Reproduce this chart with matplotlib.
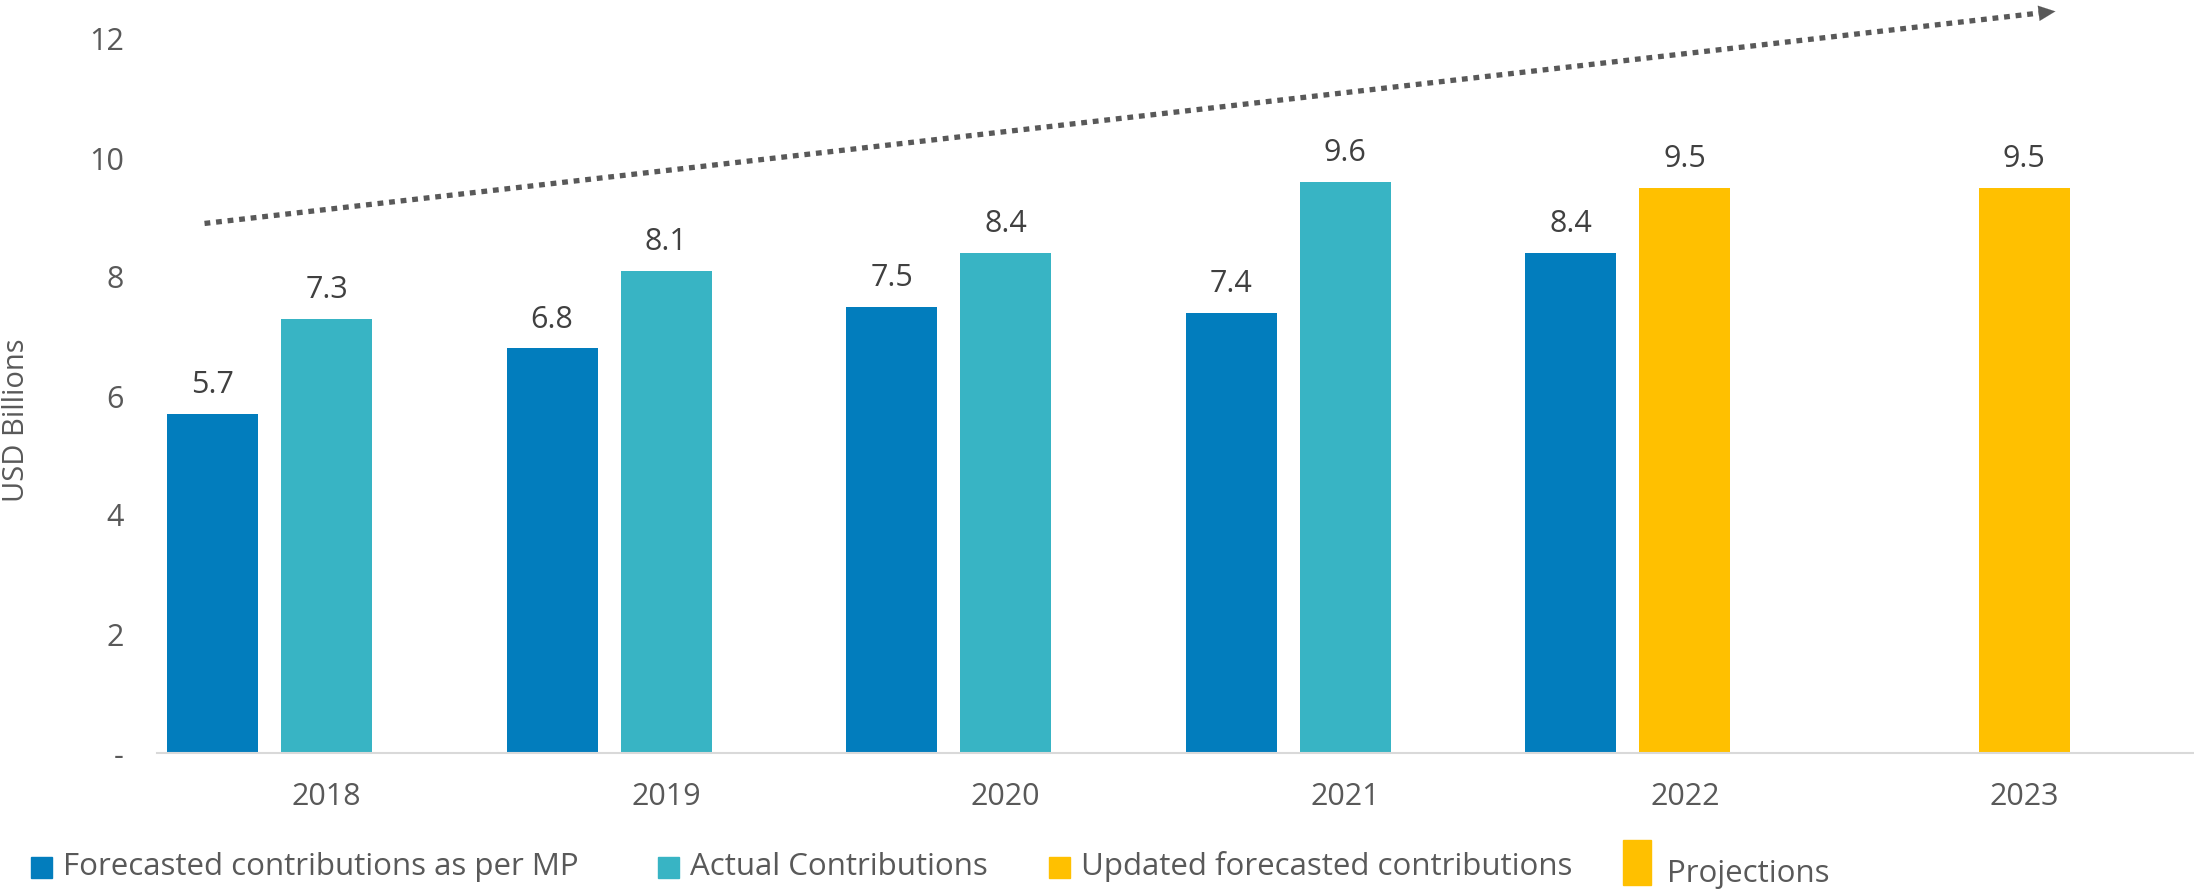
import matplotlib.pyplot as plt
import numpy as np
from matplotlib.patches import Rectangle

years = ["2018", "2019", "2020", "2021", "2022", "2023"]
forecast_mp = [5.7, 6.8, 7.5, 7.4, 8.4, np.nan]
actual = [7.3, 8.1, 8.4, 9.6, np.nan, np.nan]
updated = [np.nan, np.nan, np.nan, np.nan, 9.5, np.nan]
projections = [np.nan, np.nan, np.nan, np.nan, np.nan, 9.5]
trend_start = (-0.36, 8.9)
trend_end = (5.1, 12.47)

c_fore = "#027DBD"
c_act = "#38B4C4"
c_yel = "#FFC000"
grey = "#595959"

plt.rcParams["font.family"] = ["Open Sans", "DejaVu Sans"]

fig = plt.figure(figsize=(21.94, 8.89), dpi=100)
ax = fig.add_axes([157 / 2194, 1 - 753 / 889, 1 - 157 / 2194, 749.7 / 889])

x = np.arange(len(years))
slot = 0.336
w = 0.268

def bars(xs, vals, color):
    b = ax.bar(xs, vals, w, color=color, zorder=2)
    for rect, v in zip(b, vals):
        if np.isnan(v):
            continue
        ax.annotate(f"{v:.1f}", (rect.get_x() + rect.get_width() / 2, v),
                    xytext=(0, 10), textcoords="offset points",
                    ha="center", va="bottom", fontsize=22, color="#404040")

bars(x - slot, forecast_mp, c_fore)
bars(x, actual, c_act)
bars(x, updated, c_yel)
bars(x, projections, c_yel)

# trend arrow
ax.plot([trend_start[0], trend_end[0] - 0.05], [trend_start[1], trend_end[1] - 0.03],
        color=grey, lw=3.8, linestyle=(0, (1.1, 1.1)), dash_capstyle="butt",
        clip_on=False, zorder=3)
ax.annotate("", xy=trend_end, xytext=(trend_end[0] - 0.06, trend_end[1] - 0.04),
            arrowprops=dict(arrowstyle="-|>,head_length=1.2,head_width=0.55",
                            color=grey, lw=0.1),
            annotation_clip=False)

ax.set_xlim(-0.5, 5.5)
ax.set_ylim(0, 12.6)
ax.set_xticks(x)
ax.set_xticklabels(years)
ax.set_yticks([0, 2, 4, 6, 8, 10, 12])
ax.set_yticklabels(["-", "2", "4", "6", "8", "10", "12"])
ax.tick_params(axis="both", length=0, labelsize=22, colors=grey)
ax.tick_params(axis="x", pad=21)
ax.tick_params(axis="y", pad=24)
for s in ["top", "right", "left"]:
    ax.spines[s].set_visible(False)
ax.spines["bottom"].set_color("#D9D9D9")
ax.spines["bottom"].set_linewidth(1.5)

fig.text(17 / 2194, 1 - 420 / 889, "USD Billions", rotation=90, ha="center",
         va="center", fontsize=21, color=grey,
         family=["Liberation Sans Narrow", "Open Sans"])

# legend
items = [
    ("Forecasted contributions as per MP", c_fore, 31, 52, 63, 21, 867),
    ("Actual Contributions", c_act, 658, 679, 690, 21, 867),
    ("Updated forecasted contributions", c_yel, 1049, 1070, 1081, 21, 867),
    ("Projections", c_yel, 1623, 1651, 1667, 45, 862),
]
for label, col, x0, x1, tx, h, yc in items:
    fig.patches.append(Rectangle((x0 / 2194, 1 - (yc + h / 2) / 889),
                                 (x1 - x0) / 2194, h / 889,
                                 transform=fig.transFigure, color=col))
    ty = 874 if label == "Projections" else 867
    fig.text(tx / 2194, 1 - ty / 889, label, ha="left", va="center",
             fontsize=22.5, color=grey,
             family=["Liberation Sans Narrow", "Open Sans"])

plt.savefig("out.png")
